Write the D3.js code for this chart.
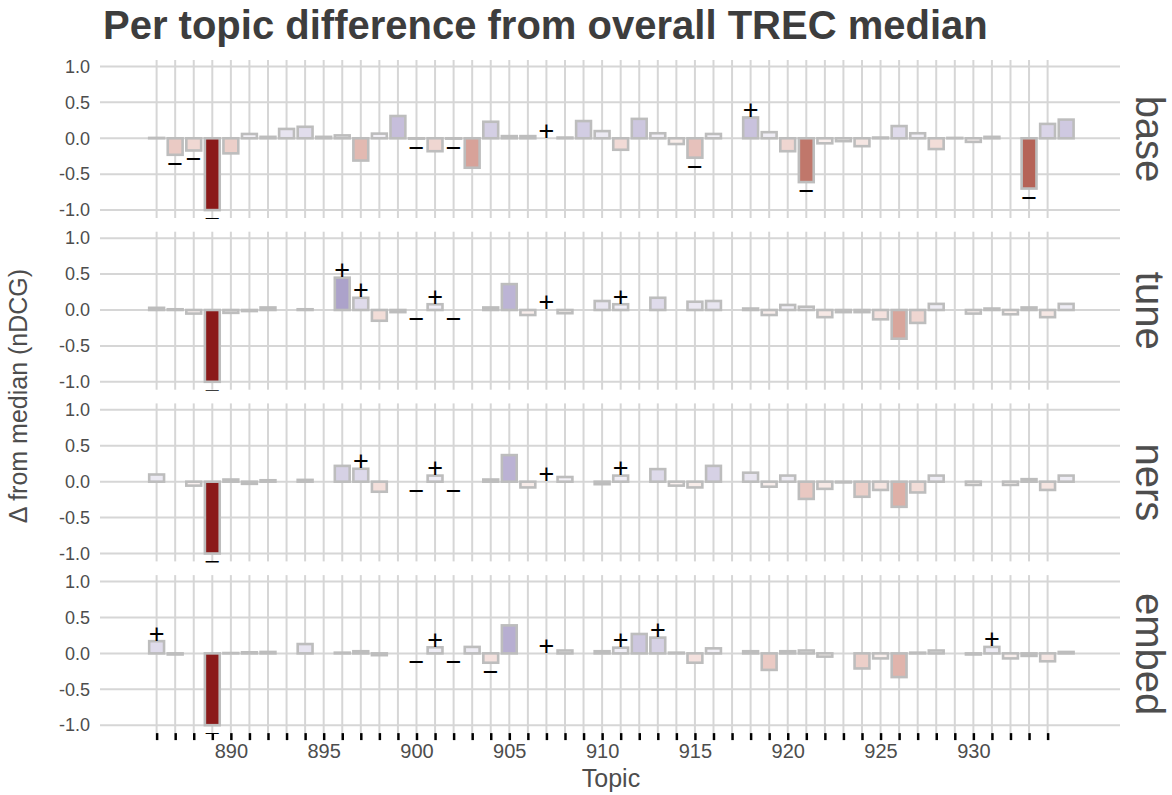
<!DOCTYPE html>
<html>
<head>
<meta charset="utf-8">
<script src="https://cdn.jsdelivr.net/npm/d3@7"></script>
<style>
body { margin: 0; background: #fff; }
text { font-family: "Liberation Sans", Arial, sans-serif; }
</style>
</head>
<body>
<script>

var topics = [886, 887, 888, 889, 890, 891, 892, 893, 894, 895,
              896, 897, 898, 899, 900, 901, 902, 903, 904, 905,
              906, 907, 908, 909, 910, 911, 912, 913, 914, 915,
              916, 917, 918, 919, 920, 921, 922, 923, 924, 925,
              926, 927, 928, 929, 930, 931, 932, 933, 934, 935];

var runs = ["base", "tune", "ners", "embed"];

// delta nDCG per topic, null = topic not scored
var base  = [ 0.005, -0.23, -0.17, -1.0, -0.21, 0.06, 0.02, 0.13, 0.16, 0.02,
              0.04, -0.31, 0.065, 0.31, -0.005, -0.18, -0.005, -0.41, 0.23, 0.03,
              0.03, 0.0, 0.01, 0.24, 0.10, -0.16, 0.27, 0.07, -0.08, -0.27,
              0.06, null, 0.29, 0.085, -0.18, -0.61, -0.07, -0.04, -0.11, 0.01,
              0.17, 0.07, -0.15, 0.005, -0.05, 0.02, 0.0, -0.70, 0.20, 0.26 ];
var tune  = [ 0.03, 0.01, -0.05, -1.0, -0.04, -0.015, 0.035, 0.0, 0.01, 0.0,
              0.45, 0.17, -0.15, -0.03, 0.0, 0.08, 0.0, 0.0, 0.035, 0.36,
              -0.07, 0.0, -0.045, 0.0, 0.125, 0.08, 0.0, 0.17, 0.0, 0.115,
              0.125, null, 0.02, -0.07, 0.07, 0.045, -0.10, -0.03, -0.03, -0.13,
              -0.40, -0.18, 0.085, 0.0, -0.05, 0.02, -0.06, 0.035, -0.10, 0.085 ];
var ners  = [ 0.10, 0.0, -0.055, -1.0, 0.03, -0.03, 0.02, 0.0, 0.025, 0.0,
              0.22, 0.18, -0.14, 0.0, 0.0, 0.085, 0.0, 0.0, 0.03, 0.37,
              -0.08, 0.0, 0.065, 0.0, -0.035, 0.085, 0.0, 0.175, -0.055, -0.08,
              0.22, null, 0.125, -0.07, 0.085, -0.24, -0.10, -0.01, -0.21, -0.115,
              -0.35, -0.15, 0.085, 0.0, -0.045, 0.0, -0.045, 0.035, -0.115, 0.085 ];
var embed = [ 0.17, -0.015, 0.0, -1.0, 0.005, 0.015, 0.02, 0.0, 0.13, 0.0,
              0.01, 0.03, -0.025, 0.0, 0.0, 0.085, 0.0, 0.09, -0.13, 0.39,
              0.0, 0.0, 0.04, 0.0, 0.03, 0.08, 0.27, 0.22, 0.01, -0.13,
              0.07, null, 0.03, -0.23, 0.03, 0.04, -0.045, 0.0, -0.21, -0.07,
              -0.33, 0.01, 0.04, 0.0, -0.015, 0.09, -0.07, -0.035, -0.11, 0.02 ];

// significantly better (+) / worse (-) than median
var basePlus   = [907, 918];
var baseMinus  = [887, 888, 889, 900, 902, 915, 921, 933];
var tunePlus   = [896, 897, 901, 907, 911];
var tuneMinus  = [889, 900, 902];
var nersPlus   = [897, 901, 907, 911];
var nersMinus  = [889, 900, 902];
var embedPlus  = [886, 901, 907, 911, 913, 931];
var embedMinus = [889, 900, 902, 904];

var yTicks = [-1, -0.5, 0, 0.5, 1];
var xLabels = [890, 895, 900, 905, 910, 915, 920, 925, 930];
var gridTopics = topics.filter(function(t) { return t <= 934; });

var series = [base, tune, ners, embed],
    plus = [basePlus, tunePlus, nersPlus, embedPlus],
    minus = [baseMinus, tuneMinus, nersMinus, embedMinus];

var w = 1172,
    h = 795,
    left = 100,
    right = 1120,
    panelTop = 60,
    panelH = 158,
    panelStep = 171.7;

var x = d3.scaleLinear().domain([882.95, 937.9]).range([left, right]);
var y = d3.scaleLinear().domain([-1.11, 1.09]).range([panelH, 0]);
var fill = d3.scaleLinear()
    .domain([-1, 0, 1])
    .range(["#8b1a1a", "#ffffff", "#483d8b"])
    .interpolate(d3.interpolateLab)
    .clamp(true);
var barW = x(886.4) - x(885.6);

var svg = d3.select("body")
            .append("svg")
            .attr("width", w)
            .attr("height", h);

svg.append("text")
    .attr("x", 103)
    .attr("y", 39)
    .attr("font-size", "40px")
    .attr("font-weight", "bold")
    .attr("fill", "#3d3d3d")
    .text("Per topic difference from overall TREC median");

runs.forEach(function(run, k) {
    var vals = series[k];
    var g = svg.append("g")
        .attr("transform", "translate(0," + (panelTop + k * panelStep) + ")");

    g.append("clipPath")
        .attr("id", "clip" + k)
        .append("rect")
        .attr("x", left)
        .attr("y", 0)
        .attr("width", right - left)
        .attr("height", panelH + 1);

    // grid
    g.selectAll(".hgrid")
        .data(yTicks)
        .enter()
        .append("line")
        .attr("x1", left)
        .attr("x2", right)
        .attr("y1", function(d) { return y(d); })
        .attr("y2", function(d) { return y(d); })
        .attr("stroke", "#d6d6d6")
        .attr("stroke-width", 2);

    g.selectAll(".vgrid")
        .data(gridTopics)
        .enter()
        .append("line")
        .attr("x1", function(d) { return x(d); })
        .attr("x2", function(d) { return x(d); })
        .attr("y1", 0)
        .attr("y2", panelH)
        .attr("stroke", "#d6d6d6")
        .attr("stroke-width", 2);

    var yAxis = d3.axisLeft(y)
        .tickValues(yTicks)
        .tickSize(0)
        .tickPadding(10)
        .tickFormat(function(d) { return d3.format(".1f")(d).replace("\u2212", "-"); });

    var ya = g.append("g")
        .attr("transform", "translate(" + left + ",0)")
        .call(yAxis);
    ya.select(".domain").remove();
    ya.selectAll("text")
        .attr("font-size", "18px")
        .attr("fill", "#4d4d4d")
        .attr("font-family", "Liberation Sans, Arial, sans-serif");

    var plot = g.append("g").attr("clip-path", "url(#clip" + k + ")");

    var rows = topics.map(function(t, i) { return { topic: t, value: vals[i] }; })
        .filter(function(d) { return d.value !== null; });

    plot.selectAll("rect")
        .data(rows)
        .enter()
        .append("rect")
        .attr("x", function(d) { return x(d.topic) - barW / 2; })
        .attr("y", function(d) { return y(Math.max(d.value, 0)); })
        .attr("width", barW)
        .attr("height", function(d) { return Math.abs(y(d.value) - y(0)); })
        .attr("fill", function(d) { return fill(d.value); })
        .attr("stroke", "#bdbdbd")
        .attr("stroke-width", 2.6);

    function valueOf(t) { return vals[topics.indexOf(t)]; }

    plot.selectAll(".plus")
        .data(plus[k])
        .enter()
        .append("text")
        .attr("x", function(d) { return x(d); })
        .attr("y", function(d) { return y(valueOf(d) + 0.115) + 9.7; })
        .attr("text-anchor", "middle")
        .attr("font-size", "27px")
        .attr("fill", "#000")
        .text("+");

    plot.selectAll(".minus")
        .data(minus[k])
        .enter()
        .append("text")
        .attr("x", function(d) { return x(d); })
        .attr("y", function(d) { return y(valueOf(d) - 0.115) + 9.7; })
        .attr("text-anchor", "middle")
        .attr("font-size", "27px")
        .attr("fill", "#000")
        .text("\u2212");

    // facet strip
    g.append("text")
        .attr("transform", "translate(1150," + (panelH / 2) + ") rotate(90)")
        .attr("text-anchor", "middle")
        .attr("dominant-baseline", "central")
        .attr("font-size", "40px")
        .attr("fill", "#4d4d4d")
        .text(run);
});

var xAxis = d3.axisBottom(x)
    .tickValues(gridTopics)
    .tickSize(7)
    .tickPadding(4)
    .tickFormat(function(d) { return xLabels.indexOf(d) >= 0 ? d : ""; });

var xa = svg.append("g")
    .attr("transform", "translate(0," + (panelTop + 3 * panelStep + panelH) + ")")
    .call(xAxis);
xa.select(".domain").remove();
xa.selectAll("line")
    .attr("stroke", "#000")
    .attr("stroke-width", 2.5);
xa.selectAll("text")
    .attr("font-size", "20px")
    .attr("fill", "#4d4d4d")
    .attr("font-family", "Liberation Sans, Arial, sans-serif");

svg.append("text")
    .attr("x", 611)
    .attr("y", 787)
    .attr("text-anchor", "middle")
    .attr("font-size", "25px")
    .attr("fill", "#4d4d4d")
    .text("Topic");

svg.append("text")
    .attr("transform", "translate(27,396) rotate(-90)")
    .attr("text-anchor", "middle")
    .attr("font-size", "25px")
    .attr("fill", "#4d4d4d")
    .text("\u0394 from median (nDCG)");

</script>
</body>
</html>
